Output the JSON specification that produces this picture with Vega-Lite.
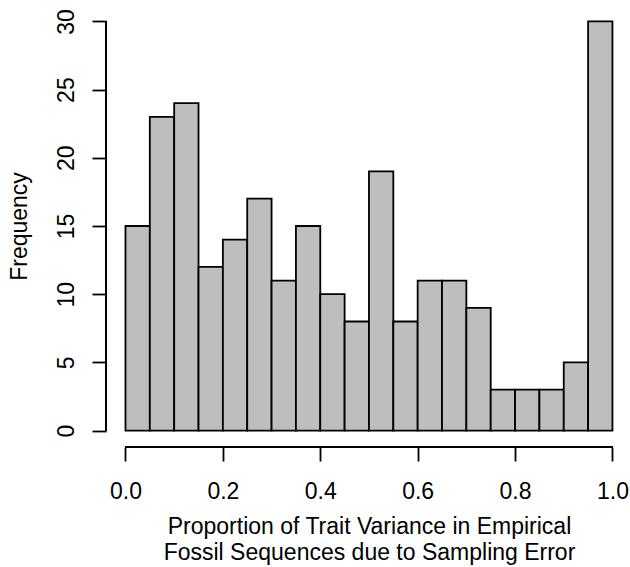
{
  "$schema": "https://vega.github.io/schema/vega-lite/v6.json",
  "autosize": {"type": "none"},
  "padding": {"left": 106, "top": 5, "right": 0.5, "bottom": 120},
  "width": 523.5,
  "height": 442,
  "background": "white",
  "config": {
    "view": {"stroke": null},
    "font": "Liberation Sans",
    "axis": {"grid": false, "domain": false, "tickColor": "black", "tickWidth": 1.8, "tickSize": 14, "labelColor": "black", "labelFontSize": 23, "labelFont": "Liberation Sans", "titleFont": "Liberation Sans", "titleFontSize": 23, "titleFontWeight": "normal", "titleColor": "black"}
  },
  "data": {"values": [
    {"bin_start": 0.00, "bin_end": 0.05, "count": 15},
    {"bin_start": 0.05, "bin_end": 0.10, "count": 23},
    {"bin_start": 0.10, "bin_end": 0.15, "count": 24},
    {"bin_start": 0.15, "bin_end": 0.20, "count": 12},
    {"bin_start": 0.20, "bin_end": 0.25, "count": 14},
    {"bin_start": 0.25, "bin_end": 0.30, "count": 17},
    {"bin_start": 0.30, "bin_end": 0.35, "count": 11},
    {"bin_start": 0.35, "bin_end": 0.40, "count": 15},
    {"bin_start": 0.40, "bin_end": 0.45, "count": 10},
    {"bin_start": 0.45, "bin_end": 0.50, "count": 8},
    {"bin_start": 0.50, "bin_end": 0.55, "count": 19},
    {"bin_start": 0.55, "bin_end": 0.60, "count": 8},
    {"bin_start": 0.60, "bin_end": 0.65, "count": 11},
    {"bin_start": 0.65, "bin_end": 0.70, "count": 11},
    {"bin_start": 0.70, "bin_end": 0.75, "count": 9},
    {"bin_start": 0.75, "bin_end": 0.80, "count": 3},
    {"bin_start": 0.80, "bin_end": 0.85, "count": 3},
    {"bin_start": 0.85, "bin_end": 0.90, "count": 3},
    {"bin_start": 0.90, "bin_end": 0.95, "count": 5},
    {"bin_start": 0.95, "bin_end": 1.00, "count": 30}
  ]},
  "layer": [
    {
      "mark": {"type": "rect", "fill": "#bebebe", "stroke": "black", "strokeWidth": 1.8},
      "encoding": {
        "x": {"field": "bin_start", "type": "quantitative",
          "scale": {"domain": [-0.04, 1.035], "nice": false, "zero": false},
          "axis": {
            "values": [0, 0.2, 0.4, 0.6, 0.8, 1.0],
            "format": ".1f",
            "labelBaseline": "alphabetic",
            "labelPadding": 37,
            "labelFlush": false,
            "labelOverlap": false,
            "title": ["Proportion of Trait Variance in Empirical", "Fossil Sequences due to Sampling Error"],
            "titleBaseline": "alphabetic",
            "titleAlign": "center",
            "titleX": 263,
            "titleY": 86.3,
            "titleLineHeight": 26.7
          }
        },
        "x2": {"field": "bin_end"},
        "y": {"field": "count", "type": "quantitative",
          "scale": {"domain": [-1.2, 31.2], "nice": false, "zero": false},
          "axis": {
            "values": [0, 5, 10, 15, 20, 25, 30],
            "labelAngle": -90,
            "labelAlign": "center",
            "labelBaseline": "alphabetic",
            "labelPadding": 18.7,
            "labelFlush": false,
            "labelOverlap": false,
            "title": "Frequency",
            "titleAngle": -90,
            "titleBaseline": "alphabetic",
            "titleAlign": "center",
            "titleX": -79.3,
            "titleY": 221
          }
        },
        "y2": {"datum": 0}
      }
    },
    {
      "mark": {"type": "rule", "color": "black", "strokeWidth": 1.8},
      "encoding": {
        "x": {"datum": 0, "type": "quantitative"},
        "x2": {"datum": 1},
        "y": {"datum": -1.2, "type": "quantitative"}
      }
    },
    {
      "mark": {"type": "rule", "color": "black", "strokeWidth": 1.8},
      "encoding": {
        "x": {"datum": -0.04, "type": "quantitative"},
        "y": {"datum": 0, "type": "quantitative"},
        "y2": {"datum": 30}
      }
    }
  ]
}
